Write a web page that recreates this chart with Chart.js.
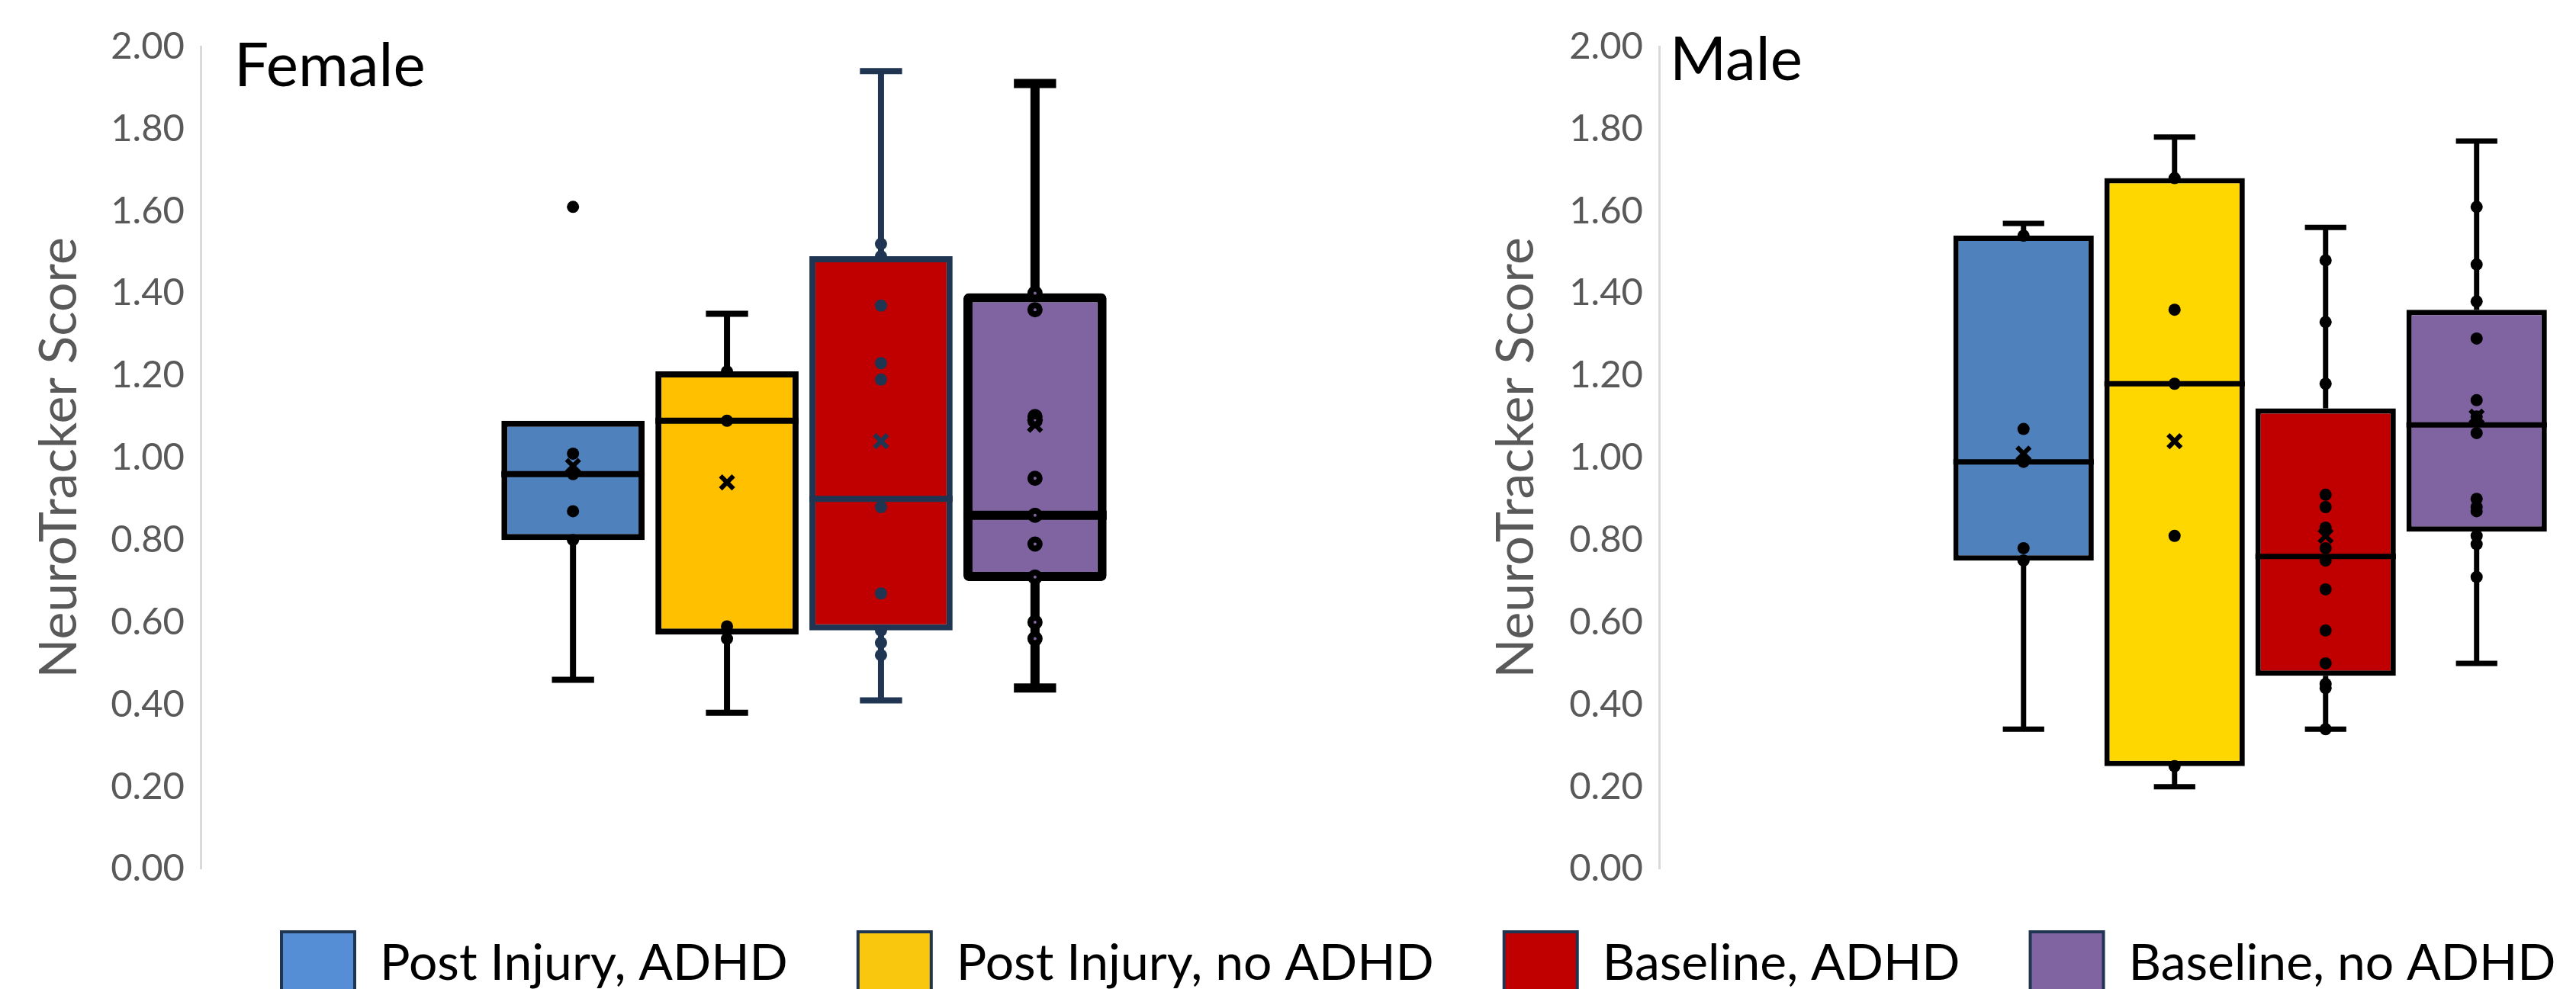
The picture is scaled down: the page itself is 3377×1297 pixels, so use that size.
<!DOCTYPE html>
<html>
<head>
<meta charset="utf-8">
<title>NeuroTracker Score by group</title>
<script src="https://cdn.jsdelivr.net/npm/chart.js@4.4.1/dist/chart.umd.min.js"></script>
<style>
    html, body { margin: 0; padding: 0; background: #ffffff; overflow: hidden; }
    #page { position: relative; width: 3377px; height: 1297px; overflow: hidden; background: #ffffff; }
    .panel { position: absolute; }
</style>
</head>
<body>
<div id="page">
    <div class="panel" style="left:0px; top:0px; width:1863px; height:1190px;"><canvas id="female-chart"></canvas></div>
    <div class="panel" style="left:1880px; top:0px; width:1497px; height:1190px;"><canvas id="male-chart"></canvas></div>
    <!-- legend canvas runs past the page edge, like the cropped original -->
    <div class="panel" style="left:277px; top:1130px; width:3400px; height:500px;"><canvas id="legend-chart"></canvas></div>
</div>
<script>
// groups (one box per group in each panel)
const groupLabels = ['Post Injury, ADHD', 'Post Injury, no ADHD', 'Baseline, ADHD', 'Baseline, no ADHD'];
const groupPositions = [1, 2, 3, 4];
const yTickValues = [0, 0.2, 0.4, 0.6, 0.8, 1.0, 1.2, 1.4, 1.6, 1.8, 2.0];

// Female
const femaleWhiskerLow = [0.46, 0.38, 0.41, 0.44];
const femaleQ1 = [0.80, 0.57, 0.58, 0.70];
const femaleMedian = [0.96, 1.09, 0.90, 0.86];
const femaleQ3 = [1.09, 1.21, 1.49, 1.40];
const femaleWhiskerHigh = [1.09, 1.35, 1.94, 1.91];
const femaleMean = [0.98, 0.94, 1.04, 1.08];
const femalePoints = [
    [1.61, 1.01, 0.96, 0.87, 0.80],
    [1.21, 1.09, 0.59, 0.56],
    [1.52, 1.49, 1.37, 1.23, 1.19, 0.88, 0.67, 0.58, 0.55, 0.52],
    [1.40, 1.36, 1.10, 1.09, 0.95, 0.86, 0.79, 0.71, 0.60, 0.56]
];

// Male
const maleWhiskerLow = [0.34, 0.20, 0.34, 0.50];
const maleQ1 = [0.75, 0.25, 0.47, 0.82];
const maleMedian = [0.99, 1.18, 0.76, 1.08];
const maleQ3 = [1.54, 1.68, 1.12, 1.36];
const maleWhiskerHigh = [1.57, 1.78, 1.56, 1.77];
const maleMean = [1.01, 1.04, 0.81, 1.10];
const malePoints = [
    [1.54, 1.07, 0.99, 0.78, 0.75],
    [1.68, 1.36, 1.18, 0.81, 0.25],
    [1.48, 1.33, 1.18, 0.91, 0.88, 0.83, 0.78, 0.75, 0.68, 0.58, 0.50, 0.45, 0.44, 0.34],
    [1.61, 1.47, 1.38, 1.29, 1.14, 1.10, 1.06, 0.90, 0.88, 0.87, 0.81, 0.79, 0.71]
];

const legendColors = ['#558ed5', '#f9c80e', '#c00000', '#8064a2'];

Chart.defaults.font.family = 'Lato';

const BOX_HALF = 0.465;   // half box width, in x units (1 unit = distance between boxes)
const CAP_HALF = 0.137;   // half whisker cap width

// draws "Female" / "Male" inside the plot area
const panelTitle = {
    id: 'panelTitle',
    afterDraw(chart, args, opts) {
        const {ctx, chartArea} = chart;
        ctx.save();
        ctx.font = '80px Lato';
        ctx.fillStyle = '#000000';
        ctx.textBaseline = 'alphabetic';
        ctx.fillText(opts.text, chartArea.left + opts.dx, chartArea.top + opts.dy);
        ctx.restore();
    }
};

function lineData(i, stats) {
    const x = groupPositions[i];
    const gap = {x: x, y: null};
    let pts = [];
    // median
    pts.push({x: x - BOX_HALF, y: stats.median[i]}, {x: x + BOX_HALF, y: stats.median[i]}, gap);
    // upper whisker
    if (stats.high[i] > stats.q3[i]) {
        pts.push({x: x, y: stats.q3[i]}, {x: x, y: stats.high[i]}, gap);
        pts.push({x: x - CAP_HALF, y: stats.high[i]}, {x: x + CAP_HALF, y: stats.high[i]}, gap);
    }
    // lower whisker
    if (stats.low[i] < stats.q1[i]) {
        pts.push({x: x, y: stats.q1[i]}, {x: x, y: stats.low[i]}, gap);
        pts.push({x: x - CAP_HALF, y: stats.low[i]}, {x: x + CAP_HALF, y: stats.low[i]});
    }
    return pts;
}

function buildDatasets(stats, style) {
    let datasets = [];

    // mean markers
    datasets.push({
        type: 'scatter',
        label: 'Mean',
        order: 1,
        data: groupPositions.map((x, i) => ({x: x, y: stats.mean[i]})),
        pointStyle: 'crossRot',
        pointRadius: 12,
        pointBorderWidth: 6,
        pointBorderColor: style.stroke,
        pointBackgroundColor: style.stroke
    });

    // individual points
    groupPositions.forEach((x, i) => {
        const ring = style.ringPoints[i];
        datasets.push({
            type: 'scatter',
            label: groupLabels[i] + ' points',
            order: 1,
            data: stats.points[i].map(v => ({x: x, y: v})),
            pointRadius: ring ? 6 : 8,
            pointBorderWidth: ring ? 8 : 0,
            pointBorderColor: style.stroke[i],
            pointBackgroundColor: ring ? style.fill[i] : style.stroke[i]
        });
    });

    // median + whiskers
    groupPositions.forEach((x, i) => {
        datasets.push({
            type: 'line',
            label: groupLabels[i] + ' whiskers',
            order: 2,
            data: lineData(i, stats),
            borderColor: style.stroke[i],
            borderWidth: style.lineWidth[i],
            borderCapStyle: 'butt',
            pointRadius: 0,
            fill: false,
            tension: 0,
            spanGaps: false
        });
    });

    // boxes q1..q3
    datasets.push({
        type: 'bar',
        label: 'Boxes',
        order: 3,
        data: groupPositions.map((x, i) => ({x: x, y: [stats.q1[i], stats.q3[i]]})),
        backgroundColor: style.fill,
        borderColor: style.stroke,
        borderWidth: style.lineWidth,
        borderRadius: style.radius,
        borderSkipped: false,
        categoryPercentage: 1,
        barPercentage: BOX_HALF * 2
    });

    return datasets;
}

function makePanel(canvasId, stats, style, layout) {
    const ctx = document.getElementById(canvasId).getContext('2d');
    return new Chart(ctx, {
        type: 'bar',
        data: { datasets: buildDatasets(stats, style) },
        plugins: [panelTitle],
        options: {
            responsive: true,
            maintainAspectRatio: false,
            animation: false,
            layout: { padding: { top: 61, bottom: 46, left: 0, right: 0 } },
            scales: {
                x: {
                    type: 'linear',
                    min: layout.xMin,
                    max: layout.xMax,
                    offset: false,
                    display: false,
                    grid: { offset: false },
                    afterBuildTicks: s => { s.ticks = groupPositions.map(v => ({value: v})); }
                },
                y: {
                    type: 'linear',
                    min: 0,
                    max: 2,
                    afterBuildTicks: s => { s.ticks = yTickValues.map(v => ({value: v})); },
                    afterFit: s => { s.width = layout.axisWidth; },
                    ticks: {
                        callback: v => Number(v).toFixed(2),
                        color: '#595959',
                        font: { family: 'Lato', size: 49 },
                        padding: 21
                    },
                    grid: { display: false, drawTicks: false },
                    border: { display: true, color: '#d9d9d9', width: 3 },
                    title: {
                        display: true,
                        text: 'NeuroTracker Score',
                        color: '#595959',
                        font: { family: 'Lato', size: 68 },
                        padding: { top: layout.titlePad, bottom: 0 }
                    }
                }
            },
            plugins: {
                legend: { display: false },
                tooltip: { enabled: false },
                panelTitle: { text: layout.title, dx: layout.titleDx, dy: layout.titleDy }
            }
        }
    });
}

makePanel('female-chart', {
    low: femaleWhiskerLow, q1: femaleQ1, median: femaleMedian, q3: femaleQ3,
    high: femaleWhiskerHigh, mean: femaleMean, points: femalePoints
}, {
    fill: ['#4f81bd', '#ffc000', '#c00000', '#8064a2'],
    stroke: ['#000000', '#000000', '#1f3552', '#000000'],
    lineWidth: [8, 8, 8, 12],
    radius: [0, 0, 0, 7],
    ringPoints: [false, false, false, true]
}, {
    xMin: -1.418, xMax: 6.418, axisWidth: 263, titlePad: 37,
    title: 'Female', titleDx: 44, titleDy: 52
});

makePanel('male-chart', {
    low: maleWhiskerLow, q1: maleQ1, median: maleMedian, q3: maleQ3,
    high: maleWhiskerHigh, mean: maleMean, points: malePoints
}, {
    fill: ['#4f81bd', '#ffd700', '#c00000', '#8064a2'],
    stroke: ['#000000', '#000000', '#000000', '#000000'],
    lineWidth: [7, 7, 7, 7],
    radius: [0, 0, 0, 0],
    ringPoints: [false, false, false, false]
}, {
    xMin: -1.413, xMax: 4.567, axisWidth: 295, titlePad: 67,
    title: 'Male', titleDx: 14, titleDy: 44
});

// shared legend below both panels
new Chart(document.getElementById('legend-chart').getContext('2d'), {
    type: 'bar',
    data: {
        labels: [],
        datasets: groupLabels.map((label, i) => ({
            label: label,
            data: [],
            backgroundColor: legendColors[i],
            borderColor: '#1f3552',
            borderWidth: 4
        }))
    },
    options: {
        responsive: true,
        maintainAspectRatio: false,
        animation: false,
        layout: { padding: 0 },
        scales: { x: { display: false }, y: { display: false } },
        plugins: {
            tooltip: { enabled: false },
            legend: {
                position: 'top',
                align: 'start',
                onClick: null,
                labels: {
                    boxWidth: 96,
                    boxHeight: 84,
                    padding: 92,
                    color: '#000000',
                    font: { family: 'Lato', size: 66 }
                }
            }
        }
    }
});
</script>
</body>
</html>
